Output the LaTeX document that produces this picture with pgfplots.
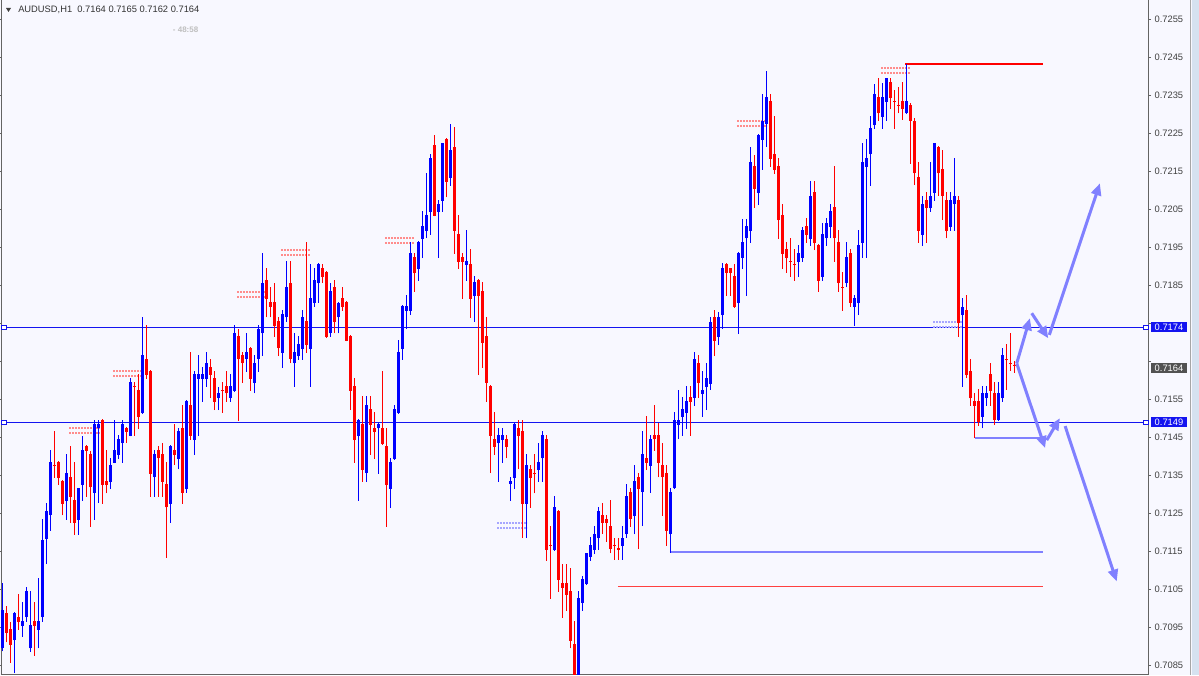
\documentclass[border=0pt]{standalone}
\usepackage{pgfplots}
\pgfplotsset{compat=1.18}
\usepackage{pgfplotstable}
\usepackage{fontspec}
\setmainfont{Liberation Sans}
\usetikzlibrary{arrows.meta}

\definecolor{bg}{RGB}{248,248,255}
\definecolor{upc}{RGB}{0,0,255}
\definecolor{dnc}{RGB}{255,0,0}
\definecolor{lav}{RGB}{128,128,255}
\definecolor{frm}{RGB}{100,100,100}
\definecolor{lvl}{RGB}{20,20,240}
\definecolor{strip}{RGB}{214,226,240}

% hourly candles, i = bar number, prices o h l c
\pgfplotstableread{
i o h l c
0 0.70895 0.71066 0.70887 0.70996
1 0.70989 0.71007 0.70911 0.70936
2 0.70945 0.70965 0.70856 0.70904
3 0.70916 0.70990 0.70830 0.70987
4 0.70978 0.71038 0.70943 0.70965
5 0.70954 0.71017 0.70926 0.70967
6 0.70977 0.71056 0.70965 0.71046
7 0.70895 0.71046 0.70886 0.70957
8 0.70967 0.71017 0.70876 0.70955
9 0.70944 0.71079 0.70895 0.70967
10 0.70977 0.71236 0.70965 0.71179
11 0.71184 0.71278 0.71117 0.71257
12 0.71245 0.71417 0.71205 0.71385
13 0.71378 0.71467 0.71344 0.71375
14 0.71385 0.71388 0.71325 0.71344
15 0.71335 0.71338 0.71245 0.71276
16 0.71283 0.71406 0.71233 0.71357
17 0.71346 0.71428 0.71226 0.71294
18 0.71285 0.71385 0.71194 0.71226
19 0.71233 0.71318 0.71194 0.71316
20 0.71325 0.71454 0.71284 0.71417
21 0.71428 0.71430 0.71294 0.71415
22 0.71406 0.71415 0.71215 0.71319
23 0.71305 0.71496 0.71233 0.71486
24 0.71474 0.71496 0.71277 0.71486
25 0.71496 0.71498 0.71276 0.71325
26 0.71336 0.71417 0.71303 0.71325
27 0.71334 0.71395 0.71314 0.71378
28 0.71384 0.71496 0.71382 0.71417
29 0.71404 0.71457 0.71393 0.71446
30 0.71435 0.71496 0.71384 0.71486
31 0.71474 0.71478 0.71435 0.71465
32 0.71455 0.71606 0.71453 0.71595
33 0.71586 0.71595 0.71455 0.71584
34 0.71575 0.71616 0.71472 0.71505
35 0.71515 0.71766 0.71513 0.71667
36 0.71657 0.71746 0.71604 0.71615
37 0.71625 0.71627 0.71294 0.71354
38 0.71345 0.71417 0.71294 0.71407
39 0.71417 0.71428 0.71294 0.71395
40 0.71407 0.71436 0.71294 0.71334
41 0.71328 0.71386 0.71134 0.71266
42 0.71275 0.71430 0.71226 0.71428
43 0.71417 0.71486 0.71378 0.71404
44 0.71393 0.71474 0.71366 0.71467
45 0.71474 0.71536 0.71275 0.71305
46 0.71314 0.71548 0.71305 0.71546
47 0.71536 0.71674 0.71444 0.71455
48 0.71444 0.71626 0.71404 0.71617
49 0.71604 0.71667 0.71455 0.71617
50 0.71604 0.71636 0.71544 0.71617
51 0.71604 0.71674 0.71584 0.71645
52 0.71635 0.71656 0.71553 0.71615
53 0.71606 0.71625 0.71522 0.71544
54 0.71555 0.71584 0.71522 0.71566
55 0.71575 0.71595 0.71515 0.71572
56 0.71586 0.71625 0.71544 0.71566
57 0.71555 0.71617 0.71544 0.71586
58 0.71573 0.71746 0.71571 0.71724
59 0.71717 0.71735 0.71494 0.71656
60 0.71667 0.71676 0.71594 0.71645
61 0.71656 0.71724 0.71623 0.71674
62 0.71685 0.71687 0.71573 0.71604
63 0.71594 0.71667 0.71566 0.71645
64 0.71656 0.71746 0.71623 0.71735
65 0.71724 0.71935 0.71664 0.71856
66 0.71864 0.71895 0.71766 0.71814
67 0.71807 0.71845 0.71766 0.71794
68 0.71807 0.71856 0.71715 0.71744
69 0.71757 0.71766 0.71664 0.71685
70 0.71673 0.71786 0.71634 0.71775
71 0.71766 0.71915 0.71755 0.71845
72 0.71856 0.71915 0.71645 0.71656
73 0.71645 0.71724 0.71584 0.71674
74 0.71664 0.71717 0.71654 0.71695
75 0.71684 0.71786 0.71654 0.71767
76 0.71757 0.71964 0.71673 0.71694
77 0.71684 0.71907 0.71584 0.71818
78 0.71805 0.71895 0.71794 0.71864
79 0.71856 0.71909 0.71805 0.71907
80 0.71895 0.71907 0.71856 0.71873
81 0.71885 0.71887 0.71713 0.71715
82 0.71724 0.71856 0.71715 0.71835
83 0.71847 0.71864 0.71724 0.71755
84 0.71766 0.71807 0.71724 0.71805
85 0.71816 0.71847 0.71784 0.71794
86 0.71806 0.71808 0.71703 0.71705
87 0.71717 0.71719 0.71522 0.71573
88 0.71586 0.71607 0.71384 0.71443
89 0.71454 0.71498 0.71284 0.71496
90 0.71486 0.71558 0.71334 0.71365
91 0.71356 0.71558 0.71334 0.71536
92 0.71525 0.71558 0.71404 0.71483
93 0.71475 0.71516 0.71393 0.71464
94 0.71474 0.71488 0.71354 0.71486
95 0.71475 0.71625 0.71431 0.71433
96 0.71428 0.71475 0.71215 0.71325
97 0.71315 0.71395 0.71264 0.71385
98 0.71393 0.71536 0.71391 0.71525
99 0.71515 0.71706 0.71513 0.71675
100 0.71684 0.71798 0.71654 0.71796
101 0.71784 0.71825 0.71735 0.71796
102 0.71783 0.71964 0.71772 0.71935
103 0.71926 0.71935 0.71834 0.71882
104 0.71893 0.71966 0.71863 0.71964
105 0.71972 0.72046 0.71922 0.72007
106 0.71994 0.72145 0.71974 0.72035
107 0.72044 0.72196 0.71983 0.72185
108 0.72219 0.72246 0.72032 0.72034
109 0.72044 0.72075 0.71923 0.72064
110 0.72073 0.72226 0.72044 0.72224
111 0.72235 0.72237 0.72082 0.72123
112 0.72134 0.72275 0.72112 0.72207
113 0.72215 0.72266 0.71933 0.71994
114 0.71985 0.72035 0.71893 0.71913
115 0.71926 0.71935 0.71814 0.71913
116 0.71904 0.71996 0.71863 0.71915
117 0.71906 0.71946 0.71765 0.71814
118 0.71823 0.71876 0.71755 0.71858
119 0.71864 0.71866 0.71614 0.71823
120 0.71835 0.71858 0.71634 0.71699
121 0.71717 0.71768 0.71544 0.71594
122 0.71585 0.71587 0.71356 0.71455
123 0.71446 0.71518 0.71404 0.71426
124 0.71435 0.71474 0.71334 0.71456
125 0.71444 0.71475 0.71384 0.71456
126 0.71446 0.71457 0.71395 0.71426
127 0.71327 0.71345 0.71284 0.71336
128 0.71344 0.71488 0.71314 0.71486
129 0.71476 0.71496 0.71366 0.71455
130 0.71467 0.71496 0.71185 0.71275
131 0.71275 0.71407 0.71185 0.71378
132 0.71366 0.71378 0.71265 0.71344
133 0.71357 0.71407 0.71303 0.71355
134 0.71364 0.71436 0.71334 0.71386
135 0.71395 0.71467 0.71334 0.71457
136 0.71445 0.71457 0.71126 0.71154
137 0.71167 0.71217 0.71025 0.71165
138 0.71154 0.71296 0.71152 0.71266
139 0.71257 0.71259 0.71044 0.71075
140 0.71066 0.71117 0.70976 0.71055
141 0.71066 0.71117 0.70994 0.71036
142 0.71046 0.71106 0.70895 0.70915
143 0.70906 0.70967 0.70805 0.70820
144 0.70820 0.71046 0.70800 0.71027
145 0.71015 0.71086 0.70994 0.71078
146 0.71064 0.71147 0.71062 0.71145
147 0.71135 0.71187 0.71125 0.71167
148 0.71154 0.71217 0.71143 0.71196
149 0.71185 0.71266 0.71154 0.71257
150 0.71246 0.71277 0.71196 0.71226
151 0.71236 0.71246 0.71176 0.71226
152 0.71217 0.71286 0.71145 0.71156
153 0.71168 0.71185 0.71128 0.71165
154 0.71158 0.71185 0.71128 0.71155
155 0.71165 0.71217 0.71128 0.71185
156 0.71195 0.71328 0.71185 0.71296
157 0.71306 0.71316 0.71215 0.71235
158 0.71244 0.71378 0.71195 0.71336
159 0.71345 0.71356 0.71156 0.71314
160 0.71306 0.71467 0.71217 0.71407
161 0.71395 0.71507 0.71364 0.71384
162 0.71376 0.71456 0.71305 0.71446
163 0.71456 0.71536 0.71415 0.71445
164 0.71456 0.71487 0.71345 0.71384
165 0.71378 0.71436 0.71244 0.71345
166 0.71356 0.71378 0.71165 0.71204
167 0.71195 0.71316 0.71147 0.71306
168 0.71316 0.71518 0.71314 0.71496
169 0.71483 0.71575 0.71445 0.71496
170 0.71505 0.71557 0.71455 0.71525
171 0.71515 0.71586 0.71473 0.71546
172 0.71557 0.71586 0.71455 0.71544
173 0.71555 0.71676 0.71534 0.71656
174 0.71645 0.71667 0.71555 0.71594
175 0.71564 0.71625 0.71505 0.71575
176 0.71584 0.71647 0.71522 0.71606
177 0.71592 0.71768 0.71575 0.71755
178 0.71766 0.71785 0.71664 0.71705
179 0.71715 0.71779 0.71693 0.71766
180 0.71772 0.71908 0.71735 0.71895
181 0.71906 0.71908 0.71822 0.71884
182 0.71895 0.71897 0.71822 0.71884
183 0.71875 0.71906 0.71792 0.71794
184 0.71805 0.71938 0.71722 0.71936
185 0.71923 0.72025 0.71893 0.71965
186 0.71974 0.72025 0.71823 0.72006
187 0.71993 0.72215 0.71963 0.72174
188 0.72164 0.72193 0.72055 0.72104
189 0.72094 0.72248 0.72062 0.72246
190 0.72233 0.72354 0.72154 0.72284
191 0.72274 0.72414 0.72214 0.72345
192 0.72336 0.72354 0.72163 0.72183
193 0.72195 0.72296 0.72143 0.72154
194 0.72164 0.72185 0.71972 0.72022
195 0.72035 0.72064 0.71893 0.71933
196 0.71945 0.71965 0.71884 0.71923
197 0.71915 0.71974 0.71873 0.71912
198 0.71906 0.71945 0.71863 0.71904
199 0.71913 0.71956 0.71873 0.71935
200 0.71923 0.72005 0.71913 0.71995
201 0.72006 0.72027 0.71963 0.71984
202 0.71972 0.72125 0.71954 0.72086
203 0.72097 0.72125 0.71943 0.71961
204 0.71956 0.71958 0.71834 0.71863
205 0.71873 0.72015 0.71863 0.71985
206 0.71974 0.72027 0.71954 0.72015
207 0.72005 0.72064 0.71974 0.72046
208 0.72056 0.72165 0.71913 0.71974
209 0.71964 0.71996 0.71834 0.71856
210 0.71847 0.71886 0.71784 0.71844
211 0.71856 0.71964 0.71845 0.71924
212 0.71935 0.71945 0.71794 0.71805
213 0.71794 0.71825 0.71744 0.71816
214 0.71805 0.71996 0.71772 0.71956
215 0.71963 0.72224 0.71923 0.72174
216 0.72163 0.72235 0.71923 0.72185
217 0.72195 0.72296 0.72113 0.72264
218 0.72272 0.72380 0.72262 0.72353
219 0.72345 0.72395 0.72284 0.72303
220 0.72294 0.72382 0.72262 0.72345
221 0.72334 0.72397 0.72284 0.72395
222 0.72385 0.72395 0.72314 0.72344
223 0.72336 0.72364 0.72262 0.72333
224 0.72325 0.72373 0.72303 0.72323
225 0.72336 0.72385 0.72286 0.72314
226 0.72303 0.72433 0.72301 0.72336
227 0.72325 0.72330 0.72171 0.72284
228 0.72284 0.72290 0.72114 0.72145
229 0.72136 0.72176 0.71963 0.71994
230 0.71983 0.72086 0.71954 0.72064
231 0.72075 0.72097 0.71963 0.72053
232 0.72053 0.72176 0.72044 0.72086
233 0.72094 0.72226 0.72073 0.72224
234 0.72214 0.72216 0.72086 0.72145
235 0.72156 0.72207 0.72022 0.72086
236 0.72075 0.72097 0.71974 0.71994
237 0.72005 0.72097 0.71994 0.72075
238 0.72064 0.72185 0.71994 0.72086
239 0.72075 0.72086 0.71715 0.71750
240 0.71772 0.71816 0.71584 0.71794
241 0.71785 0.71825 0.71606 0.71614
242 0.71626 0.71656 0.71533 0.71553
243 0.71547 0.71566 0.71448 0.71533
244 0.71547 0.71577 0.71480 0.71492
245 0.71505 0.71586 0.71474 0.71566
246 0.71553 0.71586 0.71533 0.71566
247 0.71617 0.71645 0.71533 0.71572
248 0.71566 0.71595 0.71483 0.71496
249 0.71496 0.71595 0.71494 0.71566
250 0.71553 0.71685 0.71544 0.71667
251 0.71657 0.71695 0.71575 0.71654
252 0.71647 0.71724 0.71626 0.71644
253 0.71641 0.71650 0.71620 0.71639
}\candles

\begin{document}
\begin{tikzpicture}
\useasboundingbox (0,0) rectangle (899.25pt,506.25pt);
\fill[bg] (0,0) rectangle (899.25pt,506.25pt);
\fill[strip] (894pt,0) rectangle (899.25pt,506.25pt);
\draw[black!35, line width=0.75pt] (892.9pt,0) -- (892.9pt,506.25pt);

\begin{axis}[
    at={(0.75pt,0.75pt)}, anchor=south west,
    scale only axis, width=860.25pt, height=505.5pt,
    xmin=-0.425, xmax=286.325,
    ymin=0.708276, ymax=0.726013,
    axis line style={frm, line width=0.75pt},
    xtick=\empty,
    % 0.7165 and 0.7175 sit under the price boxes
    ytick={0.7085,0.7095,0.7105,0.7115,0.7125,0.7135,0.7145,0.7155,0.7185,0.7195,0.7205,0.7215,0.7225,0.7235,0.7245,0.7255},
    extra y ticks={0.7165,0.7175},
    extra y tick labels={},
    yticklabel pos=right,
    tick align=outside,
    major tick length=2.25pt,
    ytick style={frm, line width=0.75pt},
    yticklabel={\pgfmathprintnumber[fixed,fixed zerofill,precision=4,assume math mode=true]{\tick}},
    yticklabel style={font=\fontsize{7}{8}\selectfont, text=black!75, anchor=west, inner sep=0pt, xshift=2.5pt},
    clip mode=individual,
]
% support / resistance levels
\addplot[lvl, line width=0.75pt] coordinates {(-1,0.7174) (290,0.7174)};
\addplot[lvl, line width=0.75pt] coordinates {(-1,0.7149) (290,0.7149)};
\addplot[dnc, line width=0.9pt] coordinates {(225.6,0.72433) (260.1,0.72433)};
\addplot[lav, line width=1.6pt] coordinates {(243.1,0.71449) (260.1,0.71449)};
\addplot[lav, line width=1.6pt] coordinates {(166.8,0.71149) (260.1,0.71149)};
\addplot[dnc!75, line width=0.75pt] coordinates {(153.8,0.71057) (260.1,0.71057)};

% fractal marks
\pgfplotsset{hatch/.style={line width=1.1pt, dash pattern=on 1.5pt off 0.75pt, mark=none}}
\addplot[hatch, dnc!45] coordinates {(16.6,0.71475)(24.3,0.71475)};
\addplot[hatch, dnc!45] coordinates {(16.6,0.71462)(24.3,0.71462)};
\addplot[hatch, dnc!45] coordinates {(27.6,0.71625)(35.1,0.71625)};
\addplot[hatch, dnc!45] coordinates {(27.6,0.71612)(35.1,0.71612)};
\addplot[hatch, dnc!45] coordinates {(58.6,0.71833)(66.1,0.71833)};
\addplot[hatch, dnc!45] coordinates {(58.6,0.71820)(66.1,0.71820)};
\addplot[hatch, dnc!45] coordinates {(69.6,0.71943)(76.8,0.71943)};
\addplot[hatch, dnc!45] coordinates {(69.6,0.71930)(76.8,0.71930)};
\addplot[hatch, dnc!45] coordinates {(95.6,0.71975)(102.8,0.71975)};
\addplot[hatch, dnc!45] coordinates {(95.6,0.71962)(102.8,0.71962)};
\addplot[hatch, dnc!45] coordinates {(183.6,0.72283)(191.1,0.72283)};
\addplot[hatch, dnc!45] coordinates {(183.6,0.72270)(191.1,0.72270)};
\addplot[hatch, dnc!45] coordinates {(219.6,0.72422)(226.8,0.72422)};
\addplot[hatch, dnc!45] coordinates {(219.6,0.72409)(226.8,0.72409)};
\addplot[hatch, lav!70] coordinates {(123.6,0.71225)(131.1,0.71225)};
\addplot[hatch, lav!70] coordinates {(123.6,0.71212)(131.1,0.71212)};
\addplot[hatch, lav!70] coordinates {(232.6,0.71754)(239.8,0.71754)};
\addplot[hatch, lav!70] coordinates {(232.6,0.71741)(239.8,0.71741)};

% candles: wicks then bodies
\addplot[upc, line width=0.75pt, mark=none, quiver={u=0, v=\thisrow{h}-\thisrow{l}},
    restrict expr to domain={\thisrow{c}-\thisrow{o}}{0:1}] table[x=i, y=l] {\candles};
\addplot[upc, line width=2.25pt, mark=none, quiver={u=0, v=\thisrow{c}-\thisrow{o}},
    restrict expr to domain={\thisrow{c}-\thisrow{o}}{0:1}] table[x=i, y=o] {\candles};
\addplot[dnc, line width=0.75pt, mark=none, quiver={u=0, v=\thisrow{h}-\thisrow{l}},
    restrict expr to domain={\thisrow{c}-\thisrow{o}}{-1:-0.000001}] table[x=i, y=l] {\candles};
\addplot[dnc, line width=2.25pt, mark=none, quiver={u=0, v=\thisrow{o}-\thisrow{c}},
    restrict expr to domain={\thisrow{c}-\thisrow{o}}{-1:-0.000001}] table[x=i, y=c] {\candles};

% scenario arrows
\pgfplotsset{scen/.style={lav, line width=2.25pt, mark=none, -{Triangle[length=9pt,width=7.5pt]}}}
\addplot[scen] coordinates {(253.5,0.71645) (256.8,0.71764)};
\addplot[scen] coordinates {(257.25,0.71777) (261.4,0.71711)};
\addplot[scen] coordinates {(261.65,0.71720) (274.3,0.72119)};
\addplot[scen] coordinates {(253.5,0.71645) (260.6,0.71422)};
\addplot[scen] coordinates {(261.0,0.71443) (264.3,0.71501)};
\addplot[scen] coordinates {(265.6,0.71480) (278.5,0.71071)};

% line end handles
\addplot[lvl, only marks, mark=square*, mark size=1.6pt, mark options={fill=white, line width=0.6pt}]
    coordinates {(0.33,0.7174) (285.8,0.7174) (0.33,0.7149) (285.8,0.7149)};
\end{axis}

% price boxes on the scale
\fill[lvl] (863.25pt,257.25pt) rectangle (890.25pt,264.75pt);
\node[text=white, font=\fontsize{7}{8}\selectfont, inner sep=0pt] at (876.75pt,261pt) {0.7174};
\fill[black!68] (863.25pt,226.5pt) rectangle (890.25pt,234pt);
\node[text=white, font=\fontsize{7}{8}\selectfont, inner sep=0pt] at (876.75pt,230.25pt) {0.7164};
\fill[lvl] (863.25pt,186pt) rectangle (890.25pt,193.5pt);
\node[text=white, font=\fontsize{7}{8}\selectfont, inner sep=0pt] at (876.75pt,189.75pt) {0.7149};

% header
\fill[black!75] (4.5pt,500.25pt) -- (8.25pt,500.25pt) -- (6.375pt,497.25pt) -- cycle;
\node[anchor=base west, inner sep=0pt, text=black!80, font=\fontsize{7}{8}\selectfont]
    at (13.5pt,496.6pt) {AUDUSD,H1\ \ 0.7164 0.7165 0.7162 0.7164};
\node[anchor=base west, inner sep=0pt, text=black!25, font=\fontsize{6}{7}\selectfont\bfseries]
    at (129.5pt,482pt) {- 48:58};
\end{tikzpicture}
\end{document}
